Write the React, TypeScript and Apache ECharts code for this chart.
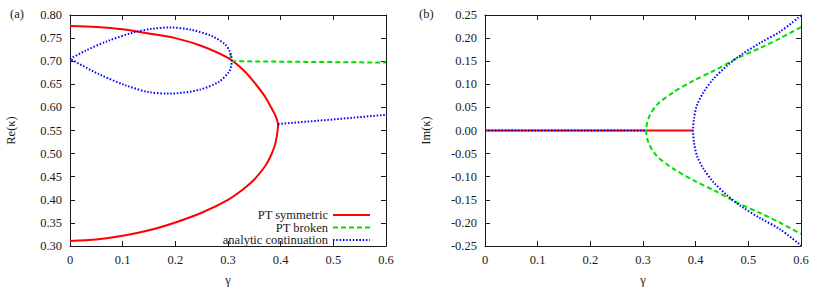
import React, { useEffect, useRef } from "react";
import * as echarts from "echarts";

const FONT = "Liberation Serif";
const INK = "#1a1a1a";

// ---- Panel (a): Re(kappa) ----
const reSymUpperGamma = [0, 0.05, 0.1, 0.15, 0.2, 0.25, 0.3, 0.33, 0.35, 0.37, 0.38, 0.389, 0.393, 0.395];
const reSymUpper = [0.776, 0.774, 0.769, 0.760, 0.750, 0.733, 0.707, 0.680, 0.654, 0.624, 0.604, 0.585, 0.573, 0.563];
const reSymLowerGamma = [0.395, 0.393, 0.389, 0.38, 0.37, 0.35, 0.33, 0.3, 0.25, 0.2, 0.15, 0.1, 0.05, 0];
const reSymLower = [0.563, 0.540, 0.518, 0.492, 0.472, 0.444, 0.424, 0.400, 0.372, 0.351, 0.334, 0.322, 0.314, 0.311];

const reBrokenGamma = [0.304, 0.307, 0.45, 0.6];
const reBroken = [0.718, 0.700, 0.6985, 0.697];

const reLoopGamma = [0, 0.03, 0.07, 0.12, 0.155, 0.19, 0.23, 0.27, 0.295, 0.303, 0.306, 0.307, 0.306, 0.3015, 0.282, 0.245, 0.19, 0.15, 0.105, 0.055, 0];
const reLoop = [0.705, 0.723, 0.743, 0.762, 0.770, 0.773, 0.768, 0.754, 0.736, 0.722, 0.712, 0.701, 0.690, 0.676, 0.655, 0.638, 0.630, 0.633, 0.648, 0.672, 0.705];

const reContGamma = [0.395, 0.5, 0.6];
const reCont = [0.564, 0.574, 0.584];

// ---- Panel (b): Im(kappa) ----
const imSymGamma = [0, 0.395];
const imSym = [0, 0];

const imBrokenGamma = [0.306, 0.3105, 0.326, 0.358, 0.396, 0.434, 0.4785, 0.523, 0.561, 0.6];
const imBrokenUpper = [0, 0.0266, 0.055, 0.083, 0.108, 0.129, 0.156, 0.179, 0.200, 0.224];
const imBrokenLower = [0, -0.0266, -0.055, -0.083, -0.108, -0.129, -0.156, -0.179, -0.200, -0.224];

const imContZeroGamma = [0, 0.306];
const imContZero = [0, 0];
const imContGamma = [0.395, 0.397, 0.4025, 0.415, 0.434, 0.4595, 0.485, 0.523, 0.561, 0.6];
const imContUpper = [0, 0.0266, 0.055, 0.083, 0.112, 0.140, 0.163, 0.190, 0.2145, 0.249];
const imContLower = [0, -0.0266, -0.055, -0.083, -0.112, -0.140, -0.163, -0.190, -0.2145, -0.249];

const xTicks = { min: 0, max: 0.6, interval: 0.1 };
const reTicks = { min: 0.3, max: 0.8, interval: 0.05 };
const imTicks = { min: -0.25, max: 0.25, interval: 0.05 };

const NAMES = ["PT symmetric", "PT broken", "analytic continuation"];
const COLORS = ["#ff0000", "#00e000", "#0000ff"];
const DASHES: (number[] | null)[] = [null, [5, 3], [1.5, 1.8]];

const zip = (xs: number[], ys: number[]) => xs.map((x, i) => [x, ys[i]]);
const rev = (a: number[][]) => a.slice().reverse();

const textStyle = { fontFamily: FONT, fontSize: 12.5, color: INK };

function xAxesFor(gridIndex: number) {
  const common = {
    type: "value",
    gridIndex,
    ...xTicks,
    splitLine: { show: false },
    axisLine: { show: true, onZero: false, lineStyle: { color: INK, width: 1 } },
    axisTick: { show: true, inside: true, length: 5, lineStyle: { color: INK, width: 1 } },
  };
  return [
    {
      ...common,
      position: "bottom",
      axisLabel: {
        ...textStyle,
        margin: 7,
        formatter: (v: number) => (Math.abs(v) < 1e-9 ? "0" : v.toFixed(1)),
      },
      name: "γ",
      nameLocation: "middle",
      nameGap: 27,
      nameTextStyle: textStyle,
    },
    { ...common, position: "top", axisLabel: { show: false } },
  ];
}

function yAxesFor(gridIndex: number, ticks: any, name: string) {
  const common = {
    type: "value",
    gridIndex,
    ...ticks,
    splitLine: { show: false },
    axisLine: { show: true, onZero: false, lineStyle: { color: INK, width: 1 } },
    axisTick: { show: true, inside: true, length: 5, lineStyle: { color: INK, width: 1 } },
  };
  return [
    {
      ...common,
      position: "left",
      axisLabel: {
        ...textStyle,
        margin: 8,
        formatter: (v: number) => (Math.abs(v) < 1e-9 ? "0.00" : v.toFixed(2)),
      },
      name,
      nameLocation: "middle",
      nameGap: 53,
      nameTextStyle: textStyle,
    },
    { ...common, position: "right", axisLabel: { show: false } },
  ];
}

function line(nameIdx: number, data: number[][], xAxisIndex: number, yAxisIndex: number, z: number, smooth = 0) {
  const lineStyle: any = { color: COLORS[nameIdx], width: 2 };
  if (DASHES[nameIdx]) lineStyle.type = DASHES[nameIdx];
  return {
    type: "line",
    name: NAMES[nameIdx],
    data,
    xAxisIndex,
    yAxisIndex,
    symbol: "none",
    showSymbol: false,
    smooth,
    z,
    color: COLORS[nameIdx],
    lineStyle,
    silent: true,
  };
}

export default function App() {
  const ref = useRef<HTMLDivElement>(null);
  useEffect(() => {
    if (!ref.current) return;
    const chart = echarts.init(ref.current, null, { renderer: "svg" });
    const legendRows = [215, 227.5, 240];
    const legendGraphics: any[] = [];
    NAMES.forEach((n, i) => {
      legendGraphics.push({
        type: "text",
        x: 328,
        y: legendRows[i],
        style: { text: n, font: `12.5px ${FONT}`, fill: INK, align: "right", verticalAlign: "middle" },
      });
      legendGraphics.push({
        type: "line",
        shape: { x1: 333, y1: legendRows[i], x2: 370, y2: legendRows[i] },
        style: { stroke: COLORS[i], lineWidth: 2, lineDash: DASHES[i] || undefined },
      });
    });
    chart.setOption({
      animation: false,
      backgroundColor: "#ffffff",
      grid: [
        { left: 70, top: 15, width: 316, height: 235 },
        { left: 485, top: 15, width: 316, height: 235 },
      ],
      xAxis: [...xAxesFor(0), ...xAxesFor(1)],
      yAxis: [...yAxesFor(0, reTicks, "Re(κ)"), ...yAxesFor(1, imTicks, "Im(κ)")],
      graphic: [
        { type: "text", left: 10, top: 7, style: { text: "(a)", font: `12.5px ${FONT}`, fill: INK } },
        { type: "text", left: 419, top: 7, style: { text: "(b)", font: `12.5px ${FONT}`, fill: INK } },
        ...legendGraphics,
      ],
      series: [
        line(0, [...zip(reSymUpperGamma, reSymUpper), ...zip(reSymLowerGamma, reSymLower)], 0, 0, 2, 0.3),
        line(1, zip(reBrokenGamma, reBroken), 0, 0, 3),
        line(2, zip(reLoopGamma, reLoop), 0, 0, 4, 0.3),
        line(2, zip(reContGamma, reCont), 0, 0, 4),
        line(0, zip(imSymGamma, imSym), 2, 2, 2),
        line(1, [...rev(zip(imBrokenGamma, imBrokenUpper)), ...zip(imBrokenGamma, imBrokenLower).slice(1)], 2, 2, 3, 0.3),
        line(2, zip(imContZeroGamma, imContZero), 2, 2, 4),
        line(2, [...rev(zip(imContGamma, imContUpper)), ...zip(imContGamma, imContLower).slice(1)], 2, 2, 4, 0.3),
      ],
    });
    return () => chart.dispose();
  }, []);
  return (
    <div
      ref={ref}
      style={{ position: "fixed", left: 0, top: 0, width: 830, height: 291, background: "#fff" }}
    />
  );
}
